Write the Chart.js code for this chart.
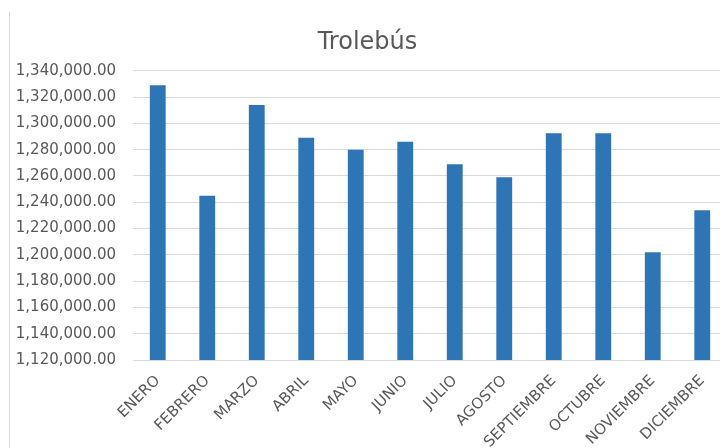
<!DOCTYPE html>
<html>
<head>
<meta charset="utf-8">
<script src="https://cdn.jsdelivr.net/npm/chart.js@4"></script>
<style>
  html, body { margin: 0; padding: 0; background: #fff; overflow: hidden; width: 720px; height: 448px; }
  #wrap { position: absolute; left: 0; top: 0; width: 740px; height: 448px; }
  #frame { position: absolute; left: 9px; top: 12px; width: 1px; height: 436px; background: #d9d9d9; }
</style>
</head>
<body>
<div id="frame"></div>
<div id="wrap"><canvas id="c"></canvas></div>
<script>
const title = 'Trolebús';
const categories = ['ENERO','FEBRERO','MARZO','ABRIL','MAYO','JUNIO','JULIO','AGOSTO','SEPTIEMBRE','OCTUBRE','NOVIEMBRE','DICIEMBRE'];
const values = [1329000, 1245000, 1314000, 1289000, 1280000, 1286000, 1269000, 1259000, 1292500, 1292500, 1202000, 1234000];
const yMin = 1120000;
const yMax = 1340000;
const yStep = 20000;

const textColor = '#595959';
const fontFamily = '"DejaVu Sans", sans-serif';

new Chart(document.getElementById('c'), {
  type: 'bar',
  data: {
    labels: categories,
    datasets: [{
      label: title,
      data: values,
      backgroundColor: '#2e75b6',
      borderWidth: 0,
      barPercentage: 0.32,
      categoryPercentage: 1.0
    }]
  },
  options: {
    responsive: true,
    maintainAspectRatio: false,
    animation: false,
    layout: { padding: { left: 8, right: 13, top: 0, bottom: 0 } },
    plugins: {
      legend: { display: false },
      tooltip: { enabled: false },
      title: {
        display: true,
        text: title,
        color: textColor,
        font: { family: fontFamily, size: 24, weight: 'normal', lineHeight: 1.2 },
        padding: { top: 28, bottom: 14 }
      }
    },
    scales: {
      x: {
        grid: { display: false, drawTicks: false },
        border: { display: false },
        ticks: {
          color: textColor,
          font: { family: fontFamily, size: 15 },
          maxRotation: 45,
          minRotation: 45,
          autoSkip: false,
          padding: 12
        },
        afterFit: (s) => { s.height = 88; }
      },
      y: {
        min: yMin,
        max: yMax,
        grid: { color: '#d9d9d9', lineWidth: 1, drawTicks: false },
        border: { display: false },
        ticks: {
          stepSize: yStep,
          color: textColor,
          font: { family: fontFamily, size: 15 },
          padding: 17,
          callback: (v) => Number(v).toLocaleString('en-US', { minimumFractionDigits: 2, maximumFractionDigits: 2 })
        },
        afterFit: (s) => { s.width = 125; }
      }
    }
  }
});
</script>
</body>
</html>
